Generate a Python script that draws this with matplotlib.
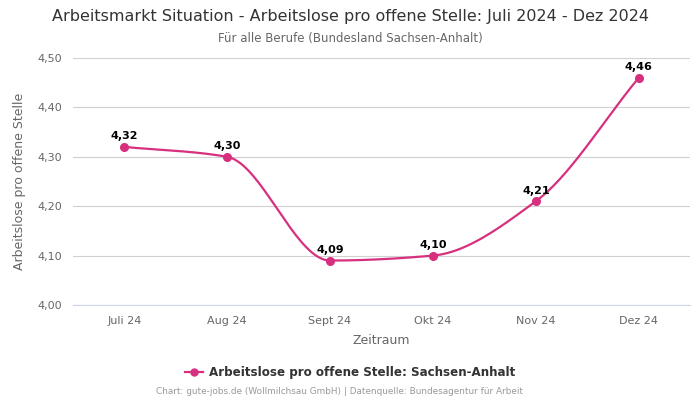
import numpy as np
import matplotlib
matplotlib.use("Agg")
from matplotlib import pyplot as plt

months = ["Juli 24", "Aug 24", "Sept 24", "Okt 24", "Nov 24", "Dez 24"]
values = [4.32, 4.30, 4.09, 4.10, 4.21, 4.46]
yticks = [4.00, 4.10, 4.20, 4.30, 4.40, 4.50]
series_name = "Arbeitslose pro offene Stelle: Sachsen-Anhalt"
color = "#d6307f"


def monotone_curve(x, y, n=40):
    # monotone cubic (Fritsch-Carlson), like d3 curveMonotoneX
    x = np.asarray(x, float)
    y = np.asarray(y, float)
    h = np.diff(x)
    d = np.diff(y) / h
    m = np.zeros_like(y)
    m[0], m[-1] = d[0], d[-1]
    for i in range(1, len(y) - 1):
        if d[i - 1] * d[i] <= 0:
            m[i] = 0
        else:
            w1 = 2 * h[i] + h[i - 1]
            w2 = h[i] + 2 * h[i - 1]
            m[i] = (w1 + w2) / (w1 / d[i - 1] + w2 / d[i])
    xs, ys = [], []
    for i in range(len(h)):
        t = np.linspace(0, 1, n)
        h00 = 2 * t**3 - 3 * t**2 + 1
        h10 = t**3 - 2 * t**2 + t
        h01 = -2 * t**3 + 3 * t**2
        h11 = t**3 - t**2
        xs.append(x[i] + t * h[i])
        ys.append(h00 * y[i] + h10 * h[i] * m[i] + h01 * y[i + 1] + h11 * h[i] * m[i + 1])
    return np.concatenate(xs), np.concatenate(ys)


fig = plt.figure(figsize=(7, 4), dpi=100)
ax = fig.add_axes([0.104, 0.2375, 0.882, 0.6175])

x = np.arange(len(months))
cx, cy = monotone_curve(x, values)
ax.plot(cx, cy, color=color, lw=1.6, zorder=3)
ax.plot(x, values, "o", color=color, ms=5.5, zorder=4)

for xi, v in zip(x, values):
    ax.annotate(f"{v:.2f}".replace(".", ","), (xi, v), xytext=(0, 4),
                textcoords="offset points", ha="center", va="bottom",
                fontsize=8, fontweight="bold", color="black")

ax.set_xlim(-0.5, len(months) - 0.5)
ax.set_ylim(4.0, 4.5)
ax.set_yticks(yticks)
ax.set_yticklabels([f"{t:.2f}".replace(".", ",") for t in yticks])
ax.set_xticks(x)
ax.set_xticklabels(months)
ax.tick_params(axis="both", length=0, labelsize=8, colors="#666666", pad=8)
ax.grid(axis="y", color="#d0d0d0", lw=0.8)
for s in ["top", "right", "left"]:
    ax.spines[s].set_visible(False)
ax.spines["bottom"].set_color("#ccd6eb")
ax.set_axisbelow(True)

ax.set_xlabel("Zeitraum", fontsize=9, color="#666666", labelpad=6)
ax.set_ylabel("Arbeitslose pro offene Stelle", fontsize=9, color="#666666", labelpad=8)

fig.text(0.5, 0.958, "Arbeitsmarkt Situation - Arbeitslose pro offene Stelle: Juli 2024 - Dez 2024",
         ha="center", va="center", fontsize=11.5, color="#333333")
fig.text(0.5, 0.903, "Für alle Berufe (Bundesland Sachsen-Anhalt)",
         ha="center", va="center", fontsize=8.5, color="#666666")

leg_handle, = ax.plot([], [], "-o", color=color, ms=5, lw=1.6)
fig.legend([leg_handle], [series_name], loc="center", bbox_to_anchor=(0.5, 0.068),
           frameon=False, prop={"size": 8.6, "weight": "bold"}, labelcolor="#333333",
           handlelength=1.5, handletextpad=0.5)

fig.text(0.485, 0.02, "Chart: gute-jobs.de (Wollmilchsau GmbH) | Datenquelle: Bundesagentur für Arbeit",
         ha="center", va="center", fontsize=6.4, color="#999999")

fig.savefig("out.png", dpi=100)
